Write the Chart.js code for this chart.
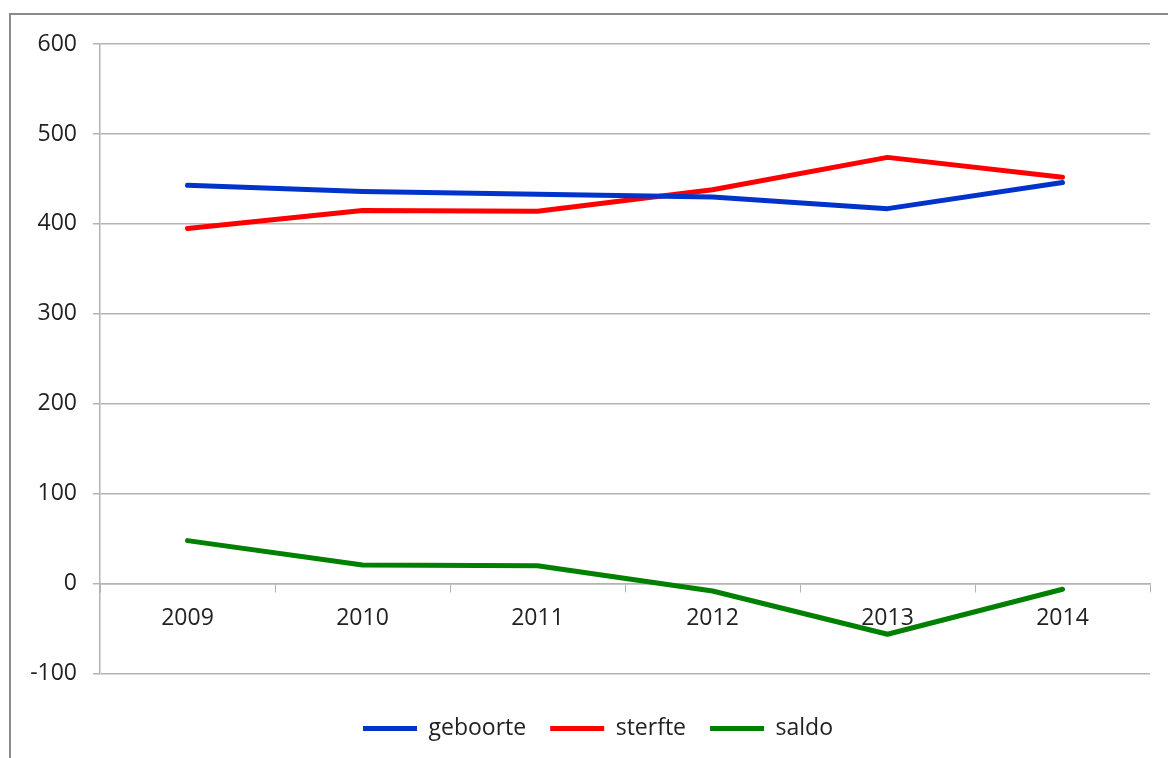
<!DOCTYPE html>
<html>
<head>
<meta charset="utf-8">
<script src="https://cdn.jsdelivr.net/npm/chart.js@4/dist/chart.umd.min.js"></script>
<style>
html,body{margin:0;padding:0;background:#fff;}
#frame{position:absolute;left:9px;top:13px;width:1300px;height:900px;border-left:2px solid #8a8a8a;border-top:2px solid #8a8a8a;}
#wrap{position:absolute;left:0;top:0;width:1168px;height:758px;overflow:hidden;}
canvas{position:absolute;left:0;top:0;}
</style>
</head>
<body>
<div id="wrap"><div id="frame"></div><canvas id="c" width="1168" height="758"></canvas></div>
<script>
const categories = ['2009','2010','2011','2012','2013','2014'];
const geboorte = [443, 436, 433, 430, 417, 446];
const sterfte = [395, 415, 414, 438, 474, 452];
const saldo = [48, 21, 20, -8, -56, -6];
const yTicks = [-100, 0, 100, 200, 300, 400, 500, 600];

const FONT = "'Open Sans', 'Liberation Sans', sans-serif";
const TXT = '#222222';
const GRID = '#b3b3b3';

const legendShift = {
  id: 'legendShift',
  afterLayout(chart) {
    if (chart.legend) { chart.legend.left += 46; }
  }
};

new Chart(document.getElementById('c'), {
  type: 'line',
  data: {
    labels: categories,
    datasets: [
      {label: 'geboorte', data: geboorte, borderColor: '#0033cc', backgroundColor: '#0033cc', borderWidth: 5, pointRadius: 0, tension: 0, borderCapStyle: 'round', borderJoinStyle: 'round'},
      {label: 'sterfte', data: sterfte, borderColor: '#ff0000', backgroundColor: '#ff0000', borderWidth: 5, pointRadius: 0, tension: 0, borderCapStyle: 'round', borderJoinStyle: 'round'},
      {label: 'saldo', data: saldo, borderColor: '#008000', backgroundColor: '#008000', borderWidth: 5, pointRadius: 0, tension: 0, borderCapStyle: 'round', borderJoinStyle: 'round'}
    ]
  },
  plugins: [legendShift],
  options: {
    responsive: false,
    animation: false,
    events: [],
    layout: {padding: {left: 0, right: 18, top: 44, bottom: 8}},
    plugins: {
      tooltip: {enabled: false},
      legend: {
        position: 'bottom',
        title: {display: true, text: ' ', font: {size: 1}, padding: {top: 0, bottom: 18}},
        labels: {
          font: {family: FONT, size: 23},
          color: TXT,
          boxWidth: 54,
          boxHeight: 5,
          padding: 24,
          generateLabels(chart) {
            return chart.data.datasets.map((d, i) => ({
              text: d.label, fillStyle: d.borderColor, strokeStyle: d.borderColor,
              lineWidth: 0, datasetIndex: i, fontColor: TXT
            }));
          }
        }
      }
    },
    scales: {
      x: {
        position: {y: 0},
        offset: true,
        afterFit(s) { s.height = 0; },
        grid: {display: true, drawOnChartArea: false, drawTicks: true, tickLength: 8, color: GRID, offset: true},
        border: {display: true, color: GRID, width: 1.5},
        ticks: {font: {family: FONT, size: 23}, color: TXT, padding: 13, maxRotation: 0}
      },
      y: {
        min: -100, max: 600,
        afterFit(s) { s.width = 100; },
        afterBuildTicks(s) { s.ticks = yTicks.map(v => ({value: v})); },
        grid: {color: GRID, lineWidth: 1.5, drawTicks: true, tickLength: 7},
        border: {display: true, color: GRID, width: 1.5},
        ticks: {font: {family: FONT, size: 23}, color: TXT, padding: 16}
      }
    }
  }
});
</script>
</body>
</html>
